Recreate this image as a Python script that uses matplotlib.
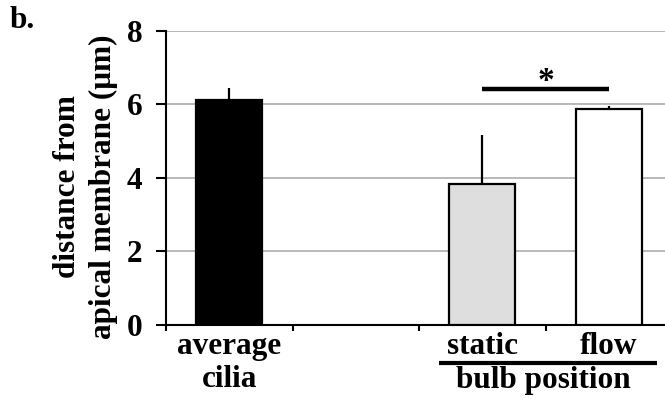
import matplotlib
matplotlib.use("Agg")
import matplotlib.pyplot as plt
import matplotlib.transforms as mtransforms
import numpy as np

# Bar data
categories = ["average\ncilia", "", "static", "flow"]
values = [6.10, 0.0, 3.83, 5.86]
errors = [0.34, 0.0, 1.34, 0.10]
colors = ["black", "none", "#dedede", "white"]
yticks = [0, 2, 4, 6, 8]

plt.rcParams['font.family'] = ['Liberation Serif', 'DejaVu Serif']
plt.rcParams['font.weight'] = 'bold'
plt.rcParams['axes.labelweight'] = 'bold'
plt.rcParams['font.size'] = 22.5

fig = plt.figure(figsize=(6.65, 3.99), dpi=100)
ax = fig.add_axes([0.2496, 0.1855, 0.761, 0.738])

x = np.arange(len(categories))
ax.bar(x, values, width=0.52, color=colors, edgecolor=["black", "none", "black", "black"],
       linewidth=1.6, zorder=3)
ax.errorbar(x[[0, 2, 3]], np.array(values)[[0, 2, 3]],
            yerr=[np.zeros(3), np.array(errors)[[0, 2, 3]]],
            fmt="none", ecolor="black", elinewidth=1.6, capsize=0, zorder=2)

ax.set_xlim(-0.5, 3.5)
ax.set_ylim(0, 8)
ax.set_yticks(yticks)
ax.yaxis.grid(True, color="#b3b3b3", linewidth=1.3, zorder=0)
ax.set_axisbelow(True)

for s in ["top", "right"]:
    ax.spines[s].set_visible(False)
ax.spines["left"].set_linewidth(1.5)
ax.spines["bottom"].set_linewidth(1.5)

ax.set_xticks(x)
ax.set_xticklabels(categories, linespacing=1.2)
ax.set_xticks(np.arange(-0.5, 4, 1), minor=True)
ax.tick_params(axis="x", which="major", length=0, pad=5)
ax.tick_params(axis="x", which="minor", length=4, width=1.5, direction="out")
ax.tick_params(axis="y", length=7, width=1.5, direction="out", pad=10)

ax.set_ylabel("distance from\napical membrane (\u03bcm)", linespacing=1.32)
ax.yaxis.set_label_coords(-0.094, 0.47)

# significance bar between static and flow
ax.plot([2, 3], [6.4, 6.4], color="black", linewidth=3.2, solid_capstyle="butt", zorder=4)
ax.text(2.5, 6.62, "*", ha="center", va="center", fontsize=24)

# group bracket under the x labels
trans = mtransforms.blended_transform_factory(ax.transData, ax.transAxes)
ax.plot([1.66, 3.38], [-0.129, -0.129], color="black", linewidth=3.0,
        transform=trans, clip_on=False, solid_capstyle="butt")
ax.text(2.48, -0.213, "bulb position", ha="center", va="baseline",
        transform=trans)

fig.text(0.015, 0.93, "b.", ha="left", va="baseline")

fig.savefig("out.png", dpi=100)
